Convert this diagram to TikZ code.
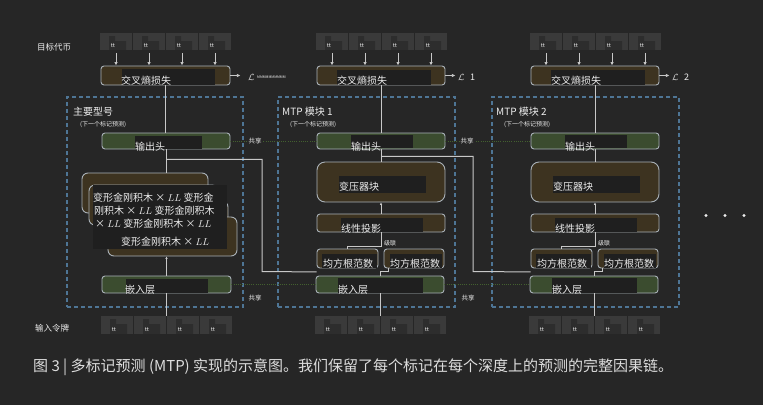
\documentclass[tikz,border=0pt]{standalone}
\usepackage{fontspec}
\setmainfont{Noto Sans CJK SC}
\usetikzlibrary{arrows.meta}
\definecolor{bgc}{HTML}{262626}
\definecolor{patchc}{HTML}{1F1F1F}
\definecolor{edgec}{HTML}{A9B1B8}
\definecolor{brnc}{HTML}{3D3320}
\definecolor{grnc}{HTML}{3B4C2F}
\definecolor{dashc}{HTML}{4E7595}
\definecolor{lnc}{HTML}{C8C8C8}
\definecolor{shc}{HTML}{43602F}
\definecolor{txtc}{HTML}{EDEDED}
\definecolor{tokc}{HTML}{3A3A3A}
\definecolor{tokdc}{HTML}{2D2D2D}
\newcommand\fs[1]{\fontsize{#1}{#1}\selectfont}
\newcommand\tokrow[4]{%
 \foreach \ti in {0,1,2,3}{%
  \pgfmathsetmacro\tkx{#2+33*\ti}%
  \node[tok, minimum height=#4pt] (#1\ti) at (\tkx+16,#3+#4/2) {};
  \fill[tokdc] (\tkx+9,#3+3) -- (\tkx+15,#3+3) -- (\tkx+15,#3+8) -- (\tkx+26,#3+8) -- (\tkx+26,#3+#4) -- (\tkx+9,#3+#4) -- cycle;
  \node[ttl] at (\tkx+13,#3+#4-4) {tt};
 }}
\begin{document}
\begin{tikzpicture}[x=1pt,y=-1pt,
 tok/.style={fill=tokc, draw=none, minimum width=32pt, inner sep=0pt},
 ttl/.style={text=txtc, font=\fs{5.5}, inner sep=0pt},
 box/.style={draw=edgec, line width=0.9pt, rounded corners=3pt, inner sep=0pt},
 brn/.style={box, fill=brnc},
 grn/.style={box, fill=grnc},
 patch/.style={fill=patchc},
 lbl/.style={text=txtc, font=\fs{10}, inner sep=0pt, anchor=west},
 ln/.style={draw=lnc, line width=1pt},
 arr/.style={ln, -{Latex[length=3.5pt,width=3.5pt]}},
 sarr/.style={ln, -{Latex[length=2.5pt,width=2.5pt]}},
 dbox/.style={draw=dashc, line width=1.4pt, dash pattern=on 4pt off 3pt, inner sep=0pt},
 share/.style={draw=shc, line width=0.9pt, dash pattern=on 1pt off 1.2pt},
 shl/.style={text=txtc, font=\fs{6.5}, inner sep=1pt, fill=bgc},
 small/.style={text=txtc, inner sep=0pt, anchor=west}]
\useasboundingbox (0,0) rectangle (763,405);
\fill[bgc] (0,0) rectangle (763,405);

% dashed module frames
\node[dbox, minimum width=176pt, minimum height=210pt] (frm1) at (155,202) {};
\node[dbox, minimum width=177pt, minimum height=210pt] (frm2) at (366.5,202) {};
\node[dbox, minimum width=187pt, minimum height=210pt] (frm3) at (585.5,202) {};

% side labels
\node[small, font=\fs{8.5}] (tgt) at (37,47) {目标代币};
\node[small, font=\fs{8.5}] (inp) at (35,328) {输入令牌};

% ---------- main model ----------
\tokrow{TA}{100}{33}{17}
\tokrow{BA}{101}{316}{18}
\node[brn, minimum width=129pt, minimum height=19pt] (ce1) at (165.5,75.5) {};
\node[grn, minimum width=128pt, minimum height=16pt] (head1) at (166,141) {};
\node[brn, rounded corners=6pt, minimum width=126pt, minimum height=40pt] (blk1) at (145,193) {};
\node[brn, rounded corners=6pt, minimum width=129pt, minimum height=40pt] (blk2) at (153.5,205) {};
\node[brn, rounded corners=6pt, minimum width=130pt, minimum height=40pt] (blk3) at (163,221) {};
\node[brn, rounded corners=6pt, minimum width=129pt, minimum height=39pt] (blk4) at (172.5,236.5) {};
\node[grn, minimum width=129pt, minimum height=17pt] (emb1) at (166.5,284.5) {};

\foreach \i in {0,...,3} \draw[arr] ([yshift=-3pt]TA\i.south) -- (TA\i.south |- ce1.north);
\draw[arr] (ce1.east) -- ++(10,0);
\draw[ln] (ce1.south) -- (ce1.south |- head1.north);
\draw[ln] (head1.south) -- (head1.south |- blk1.north);
\draw[sarr] (emb1.north) -- (emb1.north |- blk4.south);
\draw[ln] (emb1.south) -- (emb1.south |- BA0.north);

\fill[patch] (122,69) rectangle (215,85);
\fill[patch] (135,136) rectangle (202,149);
\fill[patch] (93,185) rectangle (227,249);
\fill[patch] (126,279) rectangle (208,293);
\node[lbl] (t-ce1) at (121,81) {交叉熵损失};
\node[lbl] (t-h1) at (135,147) {输出头};
\node[lbl] (t-e1) at (125,290) {嵌入层};
\node[lbl] (s1) at (93,198) {变形金刚积木 × $LL$ 变形金};
\node[lbl] (s2) at (94,211) {刚积木 × $LL$ 变形金刚积木};
\node[lbl] (s3) at (95,224) {× $LL$ 变形金刚积木 × $LL$};
\node[lbl] (s4) at (121,242) {变形金刚积木 × $LL$};
\node[lbl] (main) at (73,112) {主要型号};
\node[small, font=\fs{6}] (nt1) at (80,125) {(下一个标记预测)};
\node[small, font=\fs{9}] (L1) at (248,77) {$\mathcal{L}$};
\node[small, font=\fs{3.5}] (L1b) at (257,77.5) {MMMMMMMMMM};

% ---------- MTP modules ----------
\foreach \k/\c/\lab in {2/381/1,3/595/2}{
 \tokrow{T\k}{\c-65}{33}{17}
 \tokrow{B\k}{\c-66}{316}{18}
 \node[brn, minimum width=128pt, minimum height=19pt] (ce\k) at (\c,75.5) {};
 \node[grn, minimum width=128pt, minimum height=16pt] (head\k) at (\c,141) {};
 \node[brn, rounded corners=8pt, minimum width=128pt, minimum height=40pt] (tb\k) at (\c,182) {};
 \node[brn, minimum width=128pt, minimum height=18pt] (lp\k) at (\c,223) {};
 \node[brn, minimum width=61pt, minimum height=19pt] (rmsL\k) at (\c-33.5,258.5) {};
 \node[brn, minimum width=60pt, minimum height=19pt] (rmsR\k) at (\c+33,258.5) {};
 \node[grn, minimum width=128pt, minimum height=17pt] (emb\k) at (\c-1,284.5) {};

 \foreach \i in {0,...,3} \draw[arr] ([yshift=-3pt]T\k\i.south) -- (T\k\i.south |- ce\k.north);
 \draw[arr] (ce\k.east) -- ++(10,0);
 \draw[ln] (ce\k.south) -- (head\k.north);
 \draw[ln] (head\k.south) -- (tb\k.north);
 \draw[sarr] (lp\k.north) -- (tb\k.south);
 \draw[ln] (lp\k.south) -- ++(0,14) -| (rmsL\k.north);
 \draw[ln] (emb\k.north) -- ++(0,-4) -| ([xshift=5pt]rmsR\k.south west);
 \draw[ln] (emb\k.south) -- (emb\k.south |- B\k0.north);

 \fill[patch] (\c-44,70) rectangle (\c+50,85);
 \fill[patch] (\c-30,135) rectangle (\c+32,148);
 \fill[patch] (\c-42,176) rectangle (\c+45,193);
 \fill[patch] (\c-40,218) rectangle (\c+42,232);
 \fill[patch] (\c-59,254) rectangle (\c-4,268);
 \fill[patch] (\c+9,254) rectangle (\c+61,268);
 \fill[patch] (\c-43,278) rectangle (\c+42,293);
 \node[lbl] (tce\k) at (\c-44,81) {交叉熵损失};
 \node[lbl] (th\k) at (\c-30,147) {输出头};
 \node[lbl] (ttb\k) at (\c-42,187) {变压器块};
 \node[lbl] (tlp\k) at (\c-40,229) {线性投影};
 \node[lbl] (trl\k) at (\c-58,264) {均方根范数};
 \node[lbl] (trr\k) at (\c+9,264) {均方根范数};
 \node[lbl] (te\k) at (\c-43,290) {嵌入层};
 \node[small, font=\fs{6}] (cat\k) at (\c+3,243) {级联};
 \node[lbl] (mtp\k) at (\c-99,112) {MTP 模块 \lab};
 \node[small, font=\fs{6}] (nt\k) at (\c-91,124.5) {(下一个标记预测)};
 \node[small, font=\fs{9}] (Lk\k) at (\c+77,77) {$\mathcal{L}$};
 \node[small, font=\fs{9}] (Ln\k) at (\c+89,77) {\lab};
}

% hidden state hand-over
\draw[ln] ([yshift=-10pt]head1.south) -| (262,271.5) -- ([yshift=-3.5pt]rmsL2.south west);
\draw[ln] ([yshift=-7pt]head2.south) -| (473,271.5) -- ([yshift=-3.5pt]rmsL3.south west);

% shared weights
\draw[share] (head1.east) -- (head2.west);
\draw[share] (head2.east) -- (head3.west);
\draw[share] (emb1.east) -- (emb2.west);
\draw[share] (emb2.east) -- (emb3.west);
\node[shl] (sh1) at (255,141) {共享};
\node[shl] (sh2) at (467,141) {共享};
\node[shl] (sh3) at (255,298) {共享};
\node[shl] (sh4) at (468,298) {共享};

% ellipsis
\fill[txtc] (706,215.5) circle (1.6);
\fill[txtc] (725,215.5) circle (1.6);
\fill[txtc] (744,215.5) circle (1.6);

% caption
\node[small, font=\fs{15}, text=txtc!92!bgc] (cap) at (33,367) {图 3 | 多标记预测 (MTP) 实现的示意图。我们保留了每个标记在每个深度上的预测的完整因果链。};
\end{tikzpicture}
\end{document}
